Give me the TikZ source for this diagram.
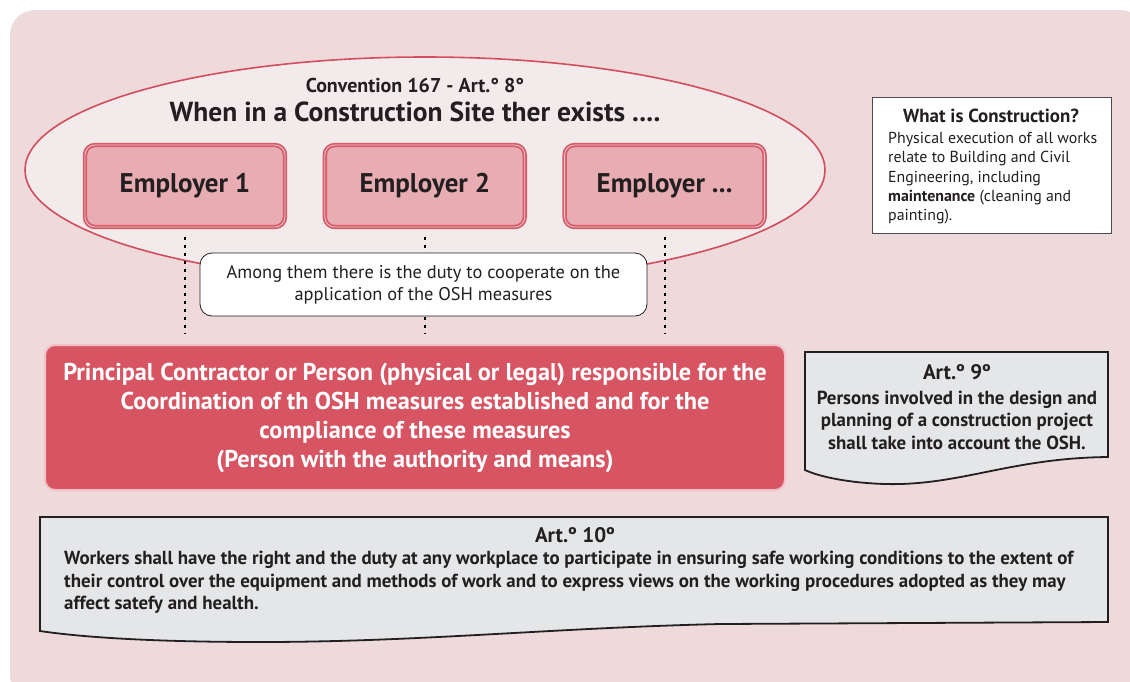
\documentclass[tikz,border=0pt]{standalone}
\usepackage{fontspec}
\setmainfont{PT Sans}
\usetikzlibrary{positioning}
\definecolor{bgpink}{RGB}{238,217,219}
\definecolor{ovalfill}{RGB}{242,234,235}
\definecolor{ovalline}{RGB}{210,78,94}
\definecolor{empfill}{RGB}{232,173,179}
\definecolor{empline}{RGB}{214,92,106}
\definecolor{pcfill}{RGB}{215,85,99}
\definecolor{notegray}{RGB}{229,230,232}
\definecolor{ink}{RGB}{35,31,32}
\tikzset{
  employer/.style = {rounded corners=10pt, fill=empfill, draw=empline, line width=1.8pt, minimum width=200pt, minimum height=82pt, text=ink, font=\fontsize{27}{30}\selectfont\bfseries,
    double=empfill!70!white, double distance=0.8pt},
  dotline/.style = {line width=1.8pt, dash pattern=on 3pt off 5pt, shorten <=9pt, shorten >=10pt},
  roundnote/.style = {rounded corners=12pt, fill=white, draw=ink, line width=0.8pt, minimum width=447pt, minimum height=63pt, align=center, text=ink, font=\fontsize{18.4}{22}\selectfont},
  mainbox/.style = {rounded corners=10pt, fill=pcfill, draw=white!65!pcfill, line width=2pt, minimum width=740pt, minimum height=145pt, align=center, text=white, font=\fontsize{24.3}{29}\selectfont\bfseries},
  infobox/.style = {fill=white, draw=ink!80, line width=0.8pt, minimum width=239pt, minimum height=136pt},
  artbox/.style = {fill=notegray, draw=ink, line width=1.8pt},
  arttitle/.style = {text=ink, font=\fontsize{21}{24}\selectfont\bfseries},
  arttext/.style = {text=ink, font=\fontsize{18.9}{22.5}\selectfont\bfseries},
}
\begin{document}
\begin{tikzpicture}[x=1pt, y=-1pt]
\useasboundingbox (0,0) rectangle (1130,681);
% background
\begin{scope}
  \clip (0,0) rectangle (1130,681);
  \fill[bgpink, rounded corners=25pt] (10,10) rectangle (1145,700);
\end{scope}
\draw[ovalline, fill=ovalfill, line width=1.6pt] (425,170) ellipse [x radius=400pt, y radius=113pt];

\node[text=ink, font=\fontsize{20}{24}\selectfont\bfseries] (conv) at (415,85) {Convention 167 - Art.° 8°};
\node[text=ink, font=\fontsize{27.5}{30}\selectfont\bfseries] (when) at (415,112) {When in a Construction Site ther exists ....};

\node[employer] (emp1) at (185,186) {Employer 1};
\node[employer, right=38pt of emp1] (emp2) {Employer 2};
\node[employer, right=38pt of emp2] (emp3) {Employer ...};

\node[mainbox] (pc) at (415,417.5) {Principal Contractor or Person (physical or legal) responsible for the\\
  Coordination of th OSH measures established and for the\\
  compliance of these measures\\
  (Person with the authority and means)};

% cooperation duty
\foreach \e in {emp1,emp2,emp3}
  \draw[dotline] (\e.south) -- (\e.south |- pc.north);
\node[roundnote] (duty) at (423.5,284.5) {Among them there is the duty to cooperate on the\\application of the OSH measures};

\node[infobox] (wic) at (991.5,165) {};
\node[text=ink, font=\fontsize{18.9}{22}\selectfont\bfseries] (wict) at (991,116) {What is Construction?};
\node[anchor=north west, align=left, inner sep=0pt, text=ink, font=\fontsize{15.9}{19.3}\selectfont] (wicb) at (888,132) {Physical execution of all works\\
  relate to Building and Civil\\
  Engineering, including\\
  \textbf{maintenance} (cleaning and\\
  painting).};

% Art 9
\draw[artbox] (805,352) -- (1108,352) -- (1108,457)
  .. controls (1010,458) and (960,486) .. (885,484)
  .. controls (850,483) and (820,477) .. (805,470) -- cycle;
\node[arttitle] (a9t) at (957,372) {Art.º 9º};
\node[arttext, align=center] (a9b) at (957,420) {Persons involved in the design and\\
  planning of a construction project\\
  shall take into account the OSH.};

% Art 10
\draw[artbox] (40,517) -- (1108,517) -- (1108,622) -- (720,624)
  .. controls (550,628) and (420,642) .. (260,642)
  .. controls (150,642) and (80,637) .. (40,631) -- cycle;
\node[arttitle] (a10t) at (575,535) {Art.º 10º};
\node[arttext, anchor=north west, align=left, inner sep=0pt] (a10b) at (64,551) {Workers shall have the right and the duty at any workplace to participate in ensuring safe working conditions to the extent of\\
  their control over the equipment and methods of work and to express views on the working procedures adopted as they may\\
  affect satefy and health.};
\end{tikzpicture}
\end{document}
